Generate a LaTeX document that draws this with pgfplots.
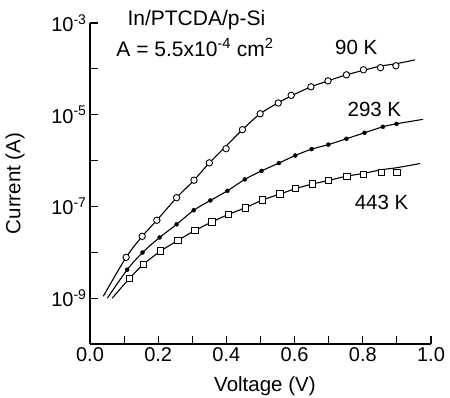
\documentclass[border=0pt]{standalone}
\usepackage{fontspec}
\setmainfont{Liberation Sans}
\usepackage{pgfplots}
\pgfplotsset{compat=1.18}
\begin{document}
\begin{tikzpicture}
\begin{axis}[
  scale only axis, width=341pt, height=321pt,
  xmin=0, xmax=1, ymode=log, ymin=1e-10, ymax=1e-3,
  axis x line=bottom, axis y line=left,
  axis line style={-, line width=1.1pt},
  xtick={0,0.1,0.2,0.3,0.4,0.5,0.6,0.7,0.8,0.9,1.0},
  xticklabels={0.0,,0.2,,0.4,,0.6,,0.8,,1.0},
  ytick={1e-9,1e-7,1e-5,1e-3},
  yticklabels={10\textsuperscript{-9},10\textsuperscript{-7},10\textsuperscript{-5},10\textsuperscript{-3}},
  extra y ticks={1e-8,1e-6,1e-4}, extra y tick labels={},
  minor tick num=0,
  tick align=inside, major tick length=8pt,
  tick style={line width=1.1pt, black},
  tick label style={font=\fontsize{20}{24}\selectfont},
  xlabel={Voltage (V)}, ylabel={Current (A)},
  label style={font=\fontsize{20.5}{24}\selectfont},
  xlabel style={at={(axis description cs:0.513,-0.13)}, anchor=center},
  ylabel style={at={(axis description cs:-0.22,0.5)}, anchor=center},
  clip=false,
]
% 90 K line
\addplot[black, line width=1.1pt, smooth] coordinates {
(0.039,1.10e-9) (0.106,7.78e-9) (0.153,2.23e-8) (0.196,4.99e-8) (0.254,1.55e-7)
(0.305,3.73e-7) (0.350,8.91e-7) (0.399,2.07e-6) (0.447,4.72e-6) (0.499,1.05e-5)
(0.552,1.82e-5) (0.590,2.57e-5) (0.648,4.06e-5) (0.698,5.48e-5) (0.752,7.41e-5)
(0.802,9.3e-5) (0.852,1.15e-4) (0.897,1.29e-4) (0.953,1.57e-4)};
% 293 K line
\addplot[black, line width=1.1pt, smooth] coordinates {
(0.051,1.0e-9) (0.109,4.17e-9) (0.154,9.89e-9) (0.204,2.10e-8) (0.254,4.07e-8)
(0.304,8.24e-8) (0.353,1.35e-7) (0.403,2.19e-7) (0.454,3.89e-7) (0.503,5.96e-7)
(0.554,8.83e-7) (0.602,1.29e-6) (0.650,1.78e-6) (0.699,2.23e-6) (0.752,2.99e-6)
(0.805,4.04e-6) (0.859,5.45e-6) (0.899,6.34e-6) (0.977,7.94e-6)};
% 443 K line
\addplot[black, line width=1.1pt, smooth] coordinates {
(0.065,1.0e-9) (0.115,2.65e-9) (0.157,5.50e-9) (0.207,1.06e-8) (0.258,1.82e-8)
(0.308,3.00e-8) (0.358,4.61e-8) (0.406,6.70e-8) (0.455,9.33e-8) (0.506,1.38e-7)
(0.557,1.86e-7) (0.603,2.45e-7) (0.653,3.09e-7) (0.699,3.67e-7) (0.753,4.57e-7)
(0.802,5.25e-7) (0.855,6.31e-7) (0.900,7.0e-7) (0.968,8.61e-7)};
% 90 K marks
\addplot[only marks, mark=*, mark size=3.2pt, mark options={fill=white, draw=black, line width=0.9pt}] coordinates {
(0.106,7.78e-9) (0.153,2.23e-8) (0.196,4.99e-8) (0.254,1.55e-7)
(0.305,3.73e-7) (0.350,8.91e-7) (0.399,1.82e-6) (0.447,4.72e-6) (0.499,1.05e-5)
(0.552,1.80e-5) (0.590,2.64e-5) (0.648,4.06e-5) (0.698,5.48e-5) (0.752,7.41e-5)
(0.802,9.55e-5) (0.852,1.06e-4) (0.897,1.17e-4)};
% 293 K marks
\addplot[only marks, mark=*, mark size=2pt, mark options={fill=black, draw=black}] coordinates {
(0.109,4.17e-9) (0.154,9.89e-9) (0.204,2.10e-8) (0.254,4.07e-8)
(0.304,8.24e-8) (0.353,1.35e-7) (0.403,2.19e-7) (0.454,3.89e-7) (0.503,5.96e-7)
(0.554,8.83e-7) (0.602,1.29e-6) (0.650,1.78e-6) (0.699,2.23e-6) (0.752,2.99e-6)
(0.805,4.04e-6) (0.859,5.45e-6) (0.899,6.34e-6)};
% 443 K marks
\addplot[only marks, mark=square*, mark size=3.2pt, mark options={fill=white, draw=black, line width=0.9pt}] coordinates {
(0.115,2.65e-9) (0.157,5.50e-9) (0.207,1.06e-8) (0.258,1.82e-8)
(0.308,3.00e-8) (0.358,4.61e-8) (0.406,6.70e-8) (0.455,9.33e-8) (0.506,1.38e-7)
(0.557,1.86e-7) (0.603,2.45e-7) (0.653,3.09e-7) (0.699,3.67e-7) (0.753,4.57e-7)
(0.802,4.97e-7) (0.855,5.57e-7) (0.900,5.57e-7)};
\node[font=\fontsize{21}{24}\selectfont] at (axis cs:0.312,1.13e-3) {In/PTCDA/p-Si};
\node[font=\fontsize{21}{24}\selectfont] at (axis cs:0.308,2.93e-4) {A = 5.5x10\textsuperscript{-4} cm\textsuperscript{2}};
\node[font=\fontsize{20.5}{24}\selectfont] at (axis cs:0.781,2.86e-4) {90 K};
\node[font=\fontsize{20.5}{24}\selectfont] at (axis cs:0.834,1.28e-5) {293 K};
\node[font=\fontsize{20.5}{24}\selectfont] at (axis cs:0.855,1.22e-7) {443 K};
\end{axis}
\pgfresetboundingbox
\path[use as bounding box] (-90pt,-54pt) rectangle (360pt,344pt);
\end{tikzpicture}
\end{document}
